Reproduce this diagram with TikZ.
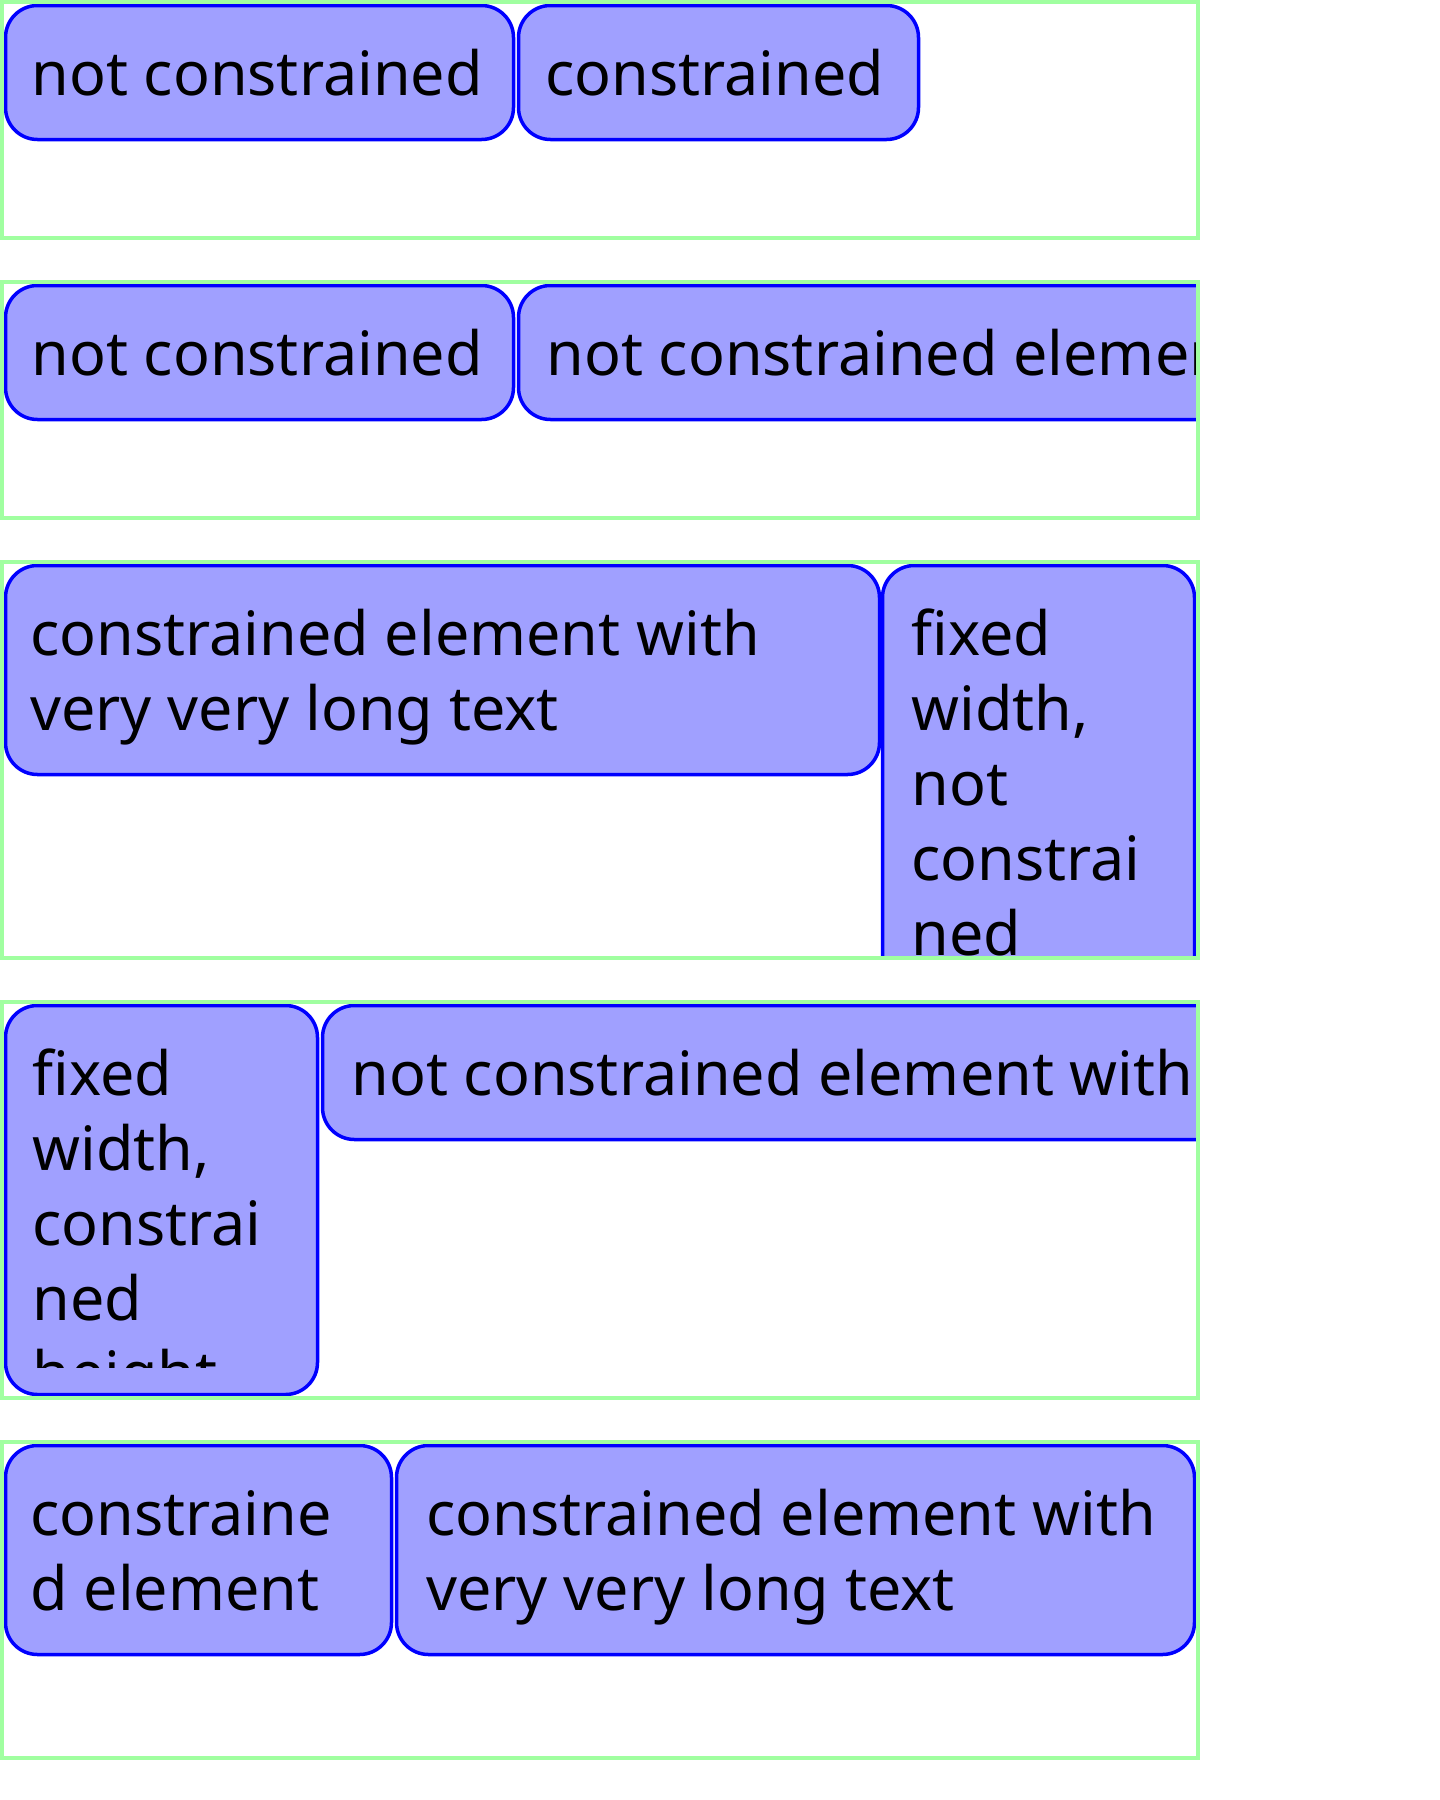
\documentclass[tikz,border=0pt]{standalone}
\usepackage{fontspec}
\setmainfont{Noto Sans}
\usepackage{tikz}
\definecolor{boxfill}{HTML}{A0A0FF}
\definecolor{boxline}{HTML}{0000FF}
\definecolor{framegreen}{HTML}{A0FFA0}

\begin{document}
\begin{tikzpicture}[x=0.5pt, y=-0.5pt,
    frame/.style={draw=framegreen, line width=2pt},
    box/.style={draw=boxline, fill=boxfill, line width=1.75pt, rounded corners=16pt},
    txt/.style={anchor=base west, inner sep=0pt, align=left,
                font=\fontsize{30.5pt}{37.5pt}\selectfont}]
    \useasboundingbox (0,0) rectangle (1440,1800);

    % row 1
    \begin{scope}
        \clip (4,4) rectangle (1196,236);
        \draw[box] (5.5,5.5) rectangle (513.5,139.5);
        \draw[box] (518.5,5.5) rectangle (918.5,139.5);
        \node[txt] (nc1) at (31,95) {not constrained};
        \node[txt] (c1) at (545,95) {constrained};
    \end{scope}
    \draw[frame] (2,2) rectangle (1198,238);

    % row 2
    \begin{scope}
        \clip (4,284) rectangle (1196,516);
        \draw[box] (5.5,285.5) rectangle (513.5,419.5);
        \draw[box] (518.5,285.5) rectangle (1400,419.5);
        \node[txt] (nc2) at (31,375) {not constrained};
        \node[txt] (ncl2) at (546,375) {not constrained element};
    \end{scope}
    \draw[frame] (2,282) rectangle (1198,518);

    % row 3 (base anchor sits on the last line)
    \begin{scope}
        \clip (4,564) rectangle (1196,956);
        \draw[box] (5.5,565.5) rectangle (879.5,774.5);
        \draw[box] (882.5,565.5) rectangle (1194.5,1100);
        \node[txt] (cl3) at (30,730) {constrained element with\\very very long text};
        \node[txt] (fw3) at (911,955) {fixed\\width,\\not\\constrai\\ned};
    \end{scope}
    \draw[frame] (2,562) rectangle (1198,958);

    % row 4
    \begin{scope}
        \clip (4,1004) rectangle (1196,1396);
        \draw[box] (5.5,1005.5) rectangle (317.5,1394.5);
        \draw[box] (322.5,1005.5) rectangle (1500,1139.5);
        \begin{scope}
            \clip (4,1004) rectangle (320,1367);
            \node[txt] (fw4) at (32,1395) {fixed\\width,\\constrai\\ned\\height};
        \end{scope}
        \node[txt] (ncl4) at (351,1095) {not constrained element with};
    \end{scope}
    \draw[frame] (2,1002) rectangle (1198,1398);

    % row 5
    \begin{scope}
        \clip (4,1444) rectangle (1196,1756);
        \draw[box] (5.5,1445.5) rectangle (391.5,1654.5);
        \draw[box] (396.5,1445.5) rectangle (1194.5,1654.5);
        \node[txt] (ce5) at (30,1610) {constraine\\d element};
        \node[txt] (cl5) at (426,1610) {constrained element with\\very very long text};
    \end{scope}
    \draw[frame] (2,1442) rectangle (1198,1758);

\end{tikzpicture}
\end{document}
